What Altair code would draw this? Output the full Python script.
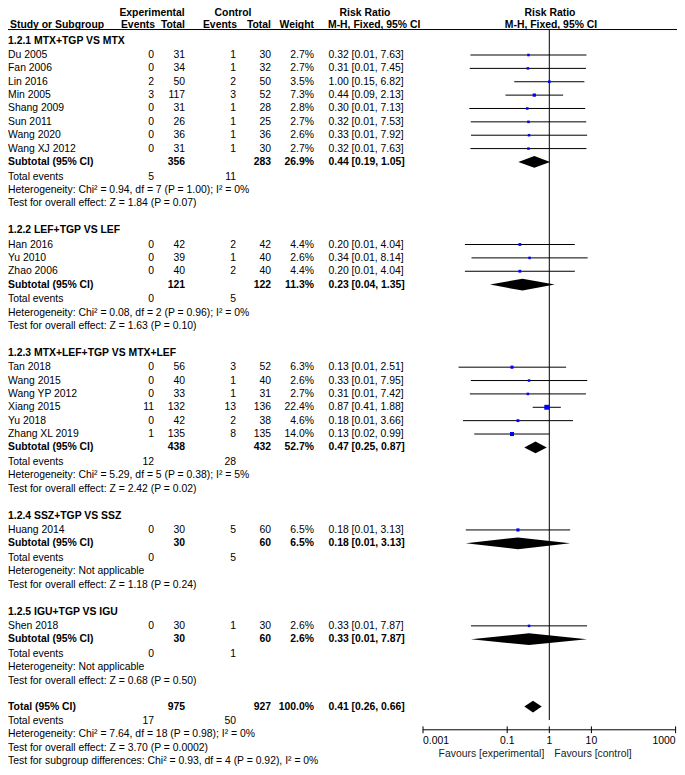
import altair as alt
import pandas as pd

# ---------------- data ----------------
subgroups = ["1.2.1 MTX+TGP VS MTX", "1.2.2 LEF+TGP VS LEF",
             "1.2.3 MTX+LEF+TGP VS MTX+LEF", "1.2.4 SSZ+TGP VS SSZ",
             "1.2.5 IGU+TGP VS IGU"]
studies = ["Du 2005", "Fan 2006", "Lin 2016", "Min 2005", "Shang 2009", "Sun 2011",
           "Wang 2020", "Wang XJ 2012",
           "Han 2016", "Yu 2010", "Zhao 2006",
           "Tan 2018", "Wang 2015", "Wang YP 2012", "Xiang 2015", "Yu 2018", "Zhang XL 2019",
           "Huang 2014",
           "Shen 2018"]
study_group = [0, 0, 0, 0, 0, 0, 0, 0, 1, 1, 1, 2, 2, 2, 2, 2, 2, 3, 4]
exp_events = [0, 0, 2, 3, 0, 0, 0, 0, 0, 0, 0, 0, 0, 0, 11, 0, 1, 0, 0]
exp_total = [31, 34, 50, 117, 31, 26, 36, 31, 42, 39, 40, 56, 40, 33, 132, 42, 135, 30, 30]
ctl_events = [1, 1, 2, 3, 1, 1, 1, 1, 2, 1, 2, 3, 1, 1, 13, 2, 8, 5, 1]
ctl_total = [30, 32, 50, 52, 28, 25, 36, 30, 42, 40, 40, 52, 40, 31, 136, 38, 135, 60, 30]
weight = [2.7, 2.7, 3.5, 7.3, 2.8, 2.7, 2.6, 2.7, 4.4, 2.6, 4.4, 6.3, 2.6, 2.7, 22.4, 4.6, 14.0, 6.5, 2.6]
rr = [0.32, 0.31, 1.00, 0.44, 0.30, 0.32, 0.33, 0.32, 0.20, 0.34, 0.20,
      0.13, 0.33, 0.31, 0.87, 0.18, 0.13, 0.18, 0.33]
ci_low = [0.01, 0.01, 0.15, 0.09, 0.01, 0.01, 0.01, 0.01, 0.01, 0.01, 0.01,
          0.01, 0.01, 0.01, 0.41, 0.01, 0.02, 0.01, 0.01]
ci_high = [7.63, 7.45, 6.82, 2.13, 7.13, 7.53, 7.92, 7.63, 4.04, 8.14, 4.04,
           2.51, 7.95, 7.42, 1.88, 3.66, 0.99, 3.13, 7.87]
# lower ends of the drawn whiskers (unrounded)
ci_low_drawn = [0.0134, 0.0129, 0.147, 0.091, 0.0126, 0.0136, 0.0138, 0.0134,
                0.0099, 0.0142, 0.0099, 0.0070, 0.0137, 0.0130, 0.403, 0.0089, 0.0165,
                0.0104, 0.0138]

sub_exp_events = [5, 0, 12, 0, 0]
sub_ctl_events = [11, 5, 28, 5, 1]
sub_exp_total = [356, 121, 438, 30, 30]
sub_ctl_total = [283, 122, 432, 60, 60]
sub_weight = [26.9, 11.3, 52.7, 6.5, 2.6]
sub_rr = [0.44, 0.23, 0.47, 0.18, 0.33]
sub_low = [0.19, 0.04, 0.25, 0.01, 0.01]
sub_high = [1.05, 1.35, 0.87, 3.13, 7.87]
sub_low_drawn = [0.184, 0.039, 0.254, 0.0104, 0.0138]
sub_het = ["Heterogeneity: Chi\u00b2 = 0.94, df = 7 (P = 1.00); I\u00b2 = 0%",
           "Heterogeneity: Chi\u00b2 = 0.08, df = 2 (P = 0.96); I\u00b2 = 0%",
           "Heterogeneity: Chi\u00b2 = 5.29, df = 5 (P = 0.38); I\u00b2 = 5%",
           "Heterogeneity: Not applicable",
           "Heterogeneity: Not applicable"]
sub_test = ["Test for overall effect: Z = 1.84 (P = 0.07)",
            "Test for overall effect: Z = 1.63 (P = 0.10)",
            "Test for overall effect: Z = 2.42 (P = 0.02)",
            "Test for overall effect: Z = 1.18 (P = 0.24)",
            "Test for overall effect: Z = 0.68 (P = 0.50)"]

tot_exp_events, tot_ctl_events = 17, 50
tot_exp_total, tot_ctl_total = 975, 927
tot_weight = 100.0
tot_rr, tot_low, tot_high, tot_low_drawn = 0.41, 0.26, 0.66, 0.255
tot_het = "Heterogeneity: Chi\u00b2 = 7.64, df = 18 (P = 0.98); I\u00b2 = 0%"
tot_test = "Test for overall effect: Z = 3.70 (P = 0.0002)"
tot_sub = "Test for subgroup differences: Chi\u00b2 = 0.93, df = 4 (P = 0.92), I\u00b2 = 0%"

axis_ticks = [0.001, 0.1, 1, 10, 1000]
axis_labels = ["0.001", "0.1", "1", "10", "1000"]

# ---------------- layout ----------------
FONT = "Liberation Sans"
FS = 10.4
W, H = 669, 759
STEP = 13.65

COLX = {"label": (0, "left"), "ee": (146, "right"), "et": (177, "right"),
        "ce": (228, "right"), "ct": (263, "right"), "w": (306, "right"),
        "rr": (320.5, "left")}

texts = []      # y, col, text, bold
study_rows = []
diamonds = []


def add(y, col, text, bold=False):
    texts.append({"y": y, "col": col, "text": str(text), "bold": bold})


def rrtxt(r, lo, hi):
    return f"{r:.2f} [{lo:.2f}, {hi:.2f}]"


def diamond(did, y, lo, est, hi, h=6):
    diamonds.extend([
        {"id": did, "x": lo, "y": y, "y2": y},
        {"id": did, "x": est, "y": y - h, "y2": y + h},
        {"id": did, "x": hi, "y": y, "y2": y},
    ])


y = 33.5
for g, name in enumerate(subgroups):
    add(y, "label", name, True)
    y += 14.5
    for i, s in enumerate(studies):
        if study_group[i] != g:
            continue
        add(y, "label", s)
        add(y, "ee", exp_events[i])
        add(y, "et", exp_total[i])
        add(y, "ce", ctl_events[i])
        add(y, "ct", ctl_total[i])
        add(y, "w", f"{weight[i]:.1f}%")
        add(y, "rr", rrtxt(rr[i], ci_low[i], ci_high[i]))
        study_rows.append({"y": y, "rr": rr[i], "lo": ci_low_drawn[i],
                           "hi": ci_high[i], "weight": weight[i]})
        y += STEP
    add(y, "label", "Subtotal (95% CI)", True)
    add(y, "et", sub_exp_total[g], True)
    add(y, "ct", sub_ctl_total[g], True)
    add(y, "w", f"{sub_weight[g]:.1f}%", True)
    add(y, "rr", rrtxt(sub_rr[g], sub_low[g], sub_high[g]), True)
    diamond(f"s{g}", y, sub_low_drawn[g], sub_rr[g], sub_high[g])
    y += 15
    add(y, "label", "Total events")
    add(y, "ee", sub_exp_events[g])
    add(y, "ce", sub_ctl_events[g])
    y += STEP
    add(y, "label", sub_het[g])
    y += STEP
    add(y, "label", sub_test[g])
    y += 27.5 if g < len(subgroups) - 1 else 26.5

add(y, "label", "Total (95% CI)", True)
add(y, "et", tot_exp_total, True)
add(y, "ct", tot_ctl_total, True)
add(y, "w", f"{tot_weight:.1f}%", True)
add(y, "rr", rrtxt(tot_rr, tot_low, tot_high), True)
diamond("tot", y, tot_low_drawn, tot_rr, tot_high)
y += 14.5
add(y, "label", "Total events")
add(y, "ee", tot_exp_events)
add(y, "ce", tot_ctl_events)
y += STEP
add(y, "label", tot_het)
y += STEP
add(y, "label", tot_test)
y += STEP
add(y, "label", tot_sub)

texts_df = pd.DataFrame(texts)
study_df = pd.DataFrame(study_rows)
diam_df = pd.DataFrame(diamonds)

yscale = alt.Scale(domain=[0, 775], range=[0, H], zero=False, nice=False)
xscale = alt.Scale(type="log", domain=[0.001, 1000], range=[415, 667.6], nice=False)
Y = alt.Y("y:Q", scale=yscale, axis=None)

layers = []

# column text
for col, (cx, al) in COLX.items():
    for b in (False, True):
        sub = texts_df[(texts_df.col == col) & (texts_df.bold == b)]
        if len(sub) == 0:
            continue
        layers.append(alt.Chart(sub).mark_text(
            align=al, baseline="middle", font=FONT, fontSize=FS,
            fontWeight="bold" if b else "normal", color="black"
        ).encode(x=alt.value(cx), y=Y, text="text:N"))

# header
header = pd.DataFrame([
    {"text": "Experimental", "x": 144, "y": 5.5, "al": "center"},
    {"text": "Control", "x": 225, "y": 5.5, "al": "center"},
    {"text": "Risk Ratio", "x": 357, "y": 5.5, "al": "center"},
    {"text": "Risk Ratio", "x": 542, "y": 5.5, "al": "center"},
    {"text": "Study or Subgroup", "x": 2, "y": 17, "al": "left"},
    {"text": "Events", "x": 147, "y": 17, "al": "right"},
    {"text": "Total", "x": 177, "y": 17, "al": "right"},
    {"text": "Events", "x": 229, "y": 17, "al": "right"},
    {"text": "Total", "x": 263, "y": 17, "al": "right"},
    {"text": "Weight", "x": 306, "y": 17, "al": "right"},
    {"text": "M-H, Fixed, 95% CI", "x": 320, "y": 17, "al": "left"},
    {"text": "M-H, Fixed, 95% CI", "x": 543, "y": 17, "al": "center"},
])
for _, r in header.iterrows():
    layers.append(alt.Chart(pd.DataFrame([{"y": r.y, "text": r.text}])).mark_text(
        align=r.al, baseline="middle", font=FONT, fontSize=FS, fontWeight="bold",
        color="black").encode(x=alt.value(float(r.x)), y=Y, text="text:N"))

# header underline
layers.append(alt.Chart(pd.DataFrame([{"y": 22}])).mark_rule(
    color="black", strokeWidth=1).encode(x=alt.value(0), x2=alt.value(W), y=Y))

# vertical line of no effect
layers.append(alt.Chart(pd.DataFrame([{"v": 1, "y": 22, "y2": 727}])).mark_rule(
    color="black", strokeWidth=1).encode(
    x=alt.X("v:Q", scale=xscale, axis=None), y=Y, y2="y2:Q"))

# CI whiskers
layers.append(alt.Chart(study_df).mark_rule(color="black", strokeWidth=1).encode(
    x=alt.X("lo:Q", scale=xscale, axis=None), x2="hi:Q", y=Y))

# squares
layers.append(alt.Chart(study_df).mark_square(color="#0000ff", opacity=1).encode(
    x=alt.X("rr:Q", scale=xscale, axis=None), y=Y,
    size=alt.Size("weight:Q", scale=alt.Scale(domain=[0, 22.4], range=[4, 24]), legend=None)))

# diamonds
layers.append(alt.Chart(diam_df).mark_area(color="black", orient="vertical",
                                           interpolate="linear", opacity=1).encode(
    x=alt.X("x:Q", scale=xscale, axis=None),
    y=alt.Y("y:Q", scale=yscale, axis=None, stack=None), y2="y2:Q",
    detail="id:N"))

# axis
AXY = 737
layers.append(alt.Chart(pd.DataFrame([{"a": axis_ticks[0], "b": axis_ticks[-1], "y": AXY}])).mark_rule(
    color="black", strokeWidth=1).encode(
    x=alt.X("a:Q", scale=xscale, axis=None), x2="b:Q", y=Y))
tick_df = pd.DataFrame({"v": axis_ticks, "lab": axis_labels,
                        "y": [AXY - 3.5] * len(axis_ticks), "y2": [AXY + 3.5] * len(axis_ticks),
                        "ly": [AXY + 11.5] * len(axis_ticks)})
layers.append(alt.Chart(tick_df).mark_rule(color="black", strokeWidth=1).encode(
    x=alt.X("v:Q", scale=xscale, axis=None), y=Y, y2="y2:Q"))
for sel, al in ((tick_df.iloc[:1], "left"), (tick_df.iloc[1:-1], "center"), (tick_df.iloc[-1:], "right")):
    layers.append(alt.Chart(sel).mark_text(align=al, baseline="middle", font=FONT,
                                           fontSize=FS, color="black").encode(
        x=alt.X("v:Q", scale=xscale, axis=None),
        y=alt.Y("ly:Q", scale=yscale, axis=None), text="lab:N"))

fav = pd.DataFrame([{"v": 1, "y": AXY + 25, "t": "Favours [experimental]"}])
layers.append(alt.Chart(fav).mark_text(align="right", baseline="middle", font=FONT,
                                       fontSize=FS, color="#222222", dx=-5).encode(
    x=alt.X("v:Q", scale=xscale, axis=None), y=Y, text="t:N"))
fav2 = pd.DataFrame([{"v": 1, "y": AXY + 25, "t": "Favours [control]"}])
layers.append(alt.Chart(fav2).mark_text(align="left", baseline="middle", font=FONT,
                                        fontSize=FS, color="#222222", dx=5).encode(
    x=alt.X("v:Q", scale=xscale, axis=None), y=Y, text="t:N"))

chart = alt.layer(*layers).properties(
    width=W, height=H, padding=0,
    autosize=alt.AutoSizeParams(type="none"),
    background="white",
).configure_view(stroke=None)

chart.save("out.html", embed_options={"renderer": "svg", "actions": False})
